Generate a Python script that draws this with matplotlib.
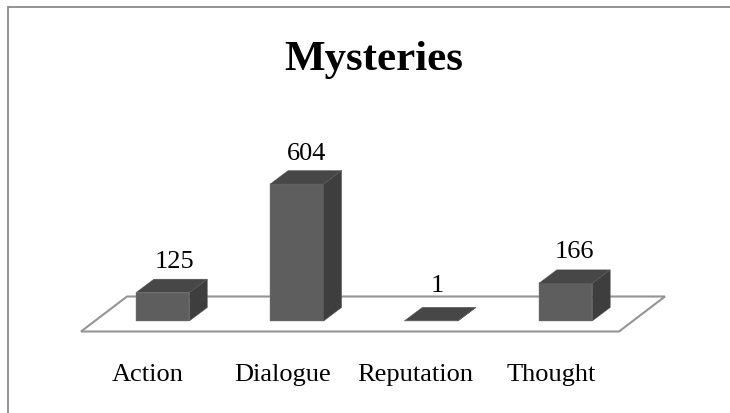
import matplotlib
matplotlib.use('Agg')
from matplotlib import pyplot as plt
from matplotlib.patches import Polygon
import numpy as np

categories = ['Action', 'Dialogue', 'Reputation', 'Thought']
values = [125, 604, 1, 166]
title = 'Mysteries'

W, H = 730, 414
step = 134.3      # pixels between bars
px_per_val = 0.2268
x0, y0 = 162.6, 322  # first bar centre and the baseline, in pixels

# small nudges of the text, pixels
val_dx = [11.5, 9.5, 6, 9]
val_dy = [7.5, 6.5, 11.5, 8]
cat_dx = [-14.5, -14.7, -16, -14.5]

plt.rcParams['font.family'] = ['Liberation Serif', 'DejaVu Serif']

fig = plt.figure(figsize=(W/100, H/100), dpi=100)
ax = fig.add_axes([0, 0, 1, 1])
ax.set_xlim(-x0/step, (W - x0)/step)
ax.set_ylim(-(H - y0)/px_per_val, y0/px_per_val)
ax.axis('off')

# offsets in data units
def dx(px):
    return px/step

def dy(px):
    return px/px_per_val

# chart border, open at the bottom
ax.plot([dx(8 - x0), dx(8 - x0), dx(730 - x0)],
        [dy(y0 - 414), dy(y0 - 8), dy(y0 - 8)],
        color='#8a8a8a', lw=1.3, solid_capstyle='butt', solid_joinstyle='miter')

# floor of the 3d chart
floor = Polygon([(dx(81 - x0), dy(y0 - 332.5)), (dx(127 - x0), dy(y0 - 297.5)),
                 (dx(665 - x0), dy(y0 - 297.5)), (dx(619 - x0), dy(y0 - 332.5))],
                closed=True, facecolor='white', edgecolor='#959595', lw=1.5, zorder=1)
ax.add_patch(floor)

bar_w = dx(53.5)
ox, oy = dx(18), dy(13.5)
xs = np.arange(len(values))

for x, v in zip(xs, values):
    left, right = x - bar_w/2, x + bar_w/2
    ax.bar(x, v, width=bar_w, color='#5e5e5e', edgecolor='#7a7a7a', lw=0.3, zorder=3)
    ax.add_patch(Polygon([(left, v), (left + ox, v + oy), (right + ox, v + oy), (right, v)],
                         closed=True, facecolor='#474747', edgecolor='#5a5a5a', lw=0.3, zorder=3))
    ax.add_patch(Polygon([(right, 0), (right, v), (right + ox, v + oy), (right + ox, oy)],
                         closed=True, facecolor='#3e3e3e', edgecolor='#5a5a5a', lw=0.3, zorder=3))
    ax.text(x + dx(val_dx[x]), v + oy + dy(val_dy[x]), str(v), ha='center', va='bottom',
            fontsize=19, color='black', zorder=4)
    ax.text(x + dx(cat_dx[x]), dy(y0 - 381), categories[x], ha='center', va='baseline',
            fontsize=19, color='black', zorder=4)

ax.text(dx(373.5 - x0), dy(y0 - 70), title, ha='center', va='baseline',
        fontsize=31, fontweight='bold', color='black')

fig.savefig('out.png', dpi=100)
